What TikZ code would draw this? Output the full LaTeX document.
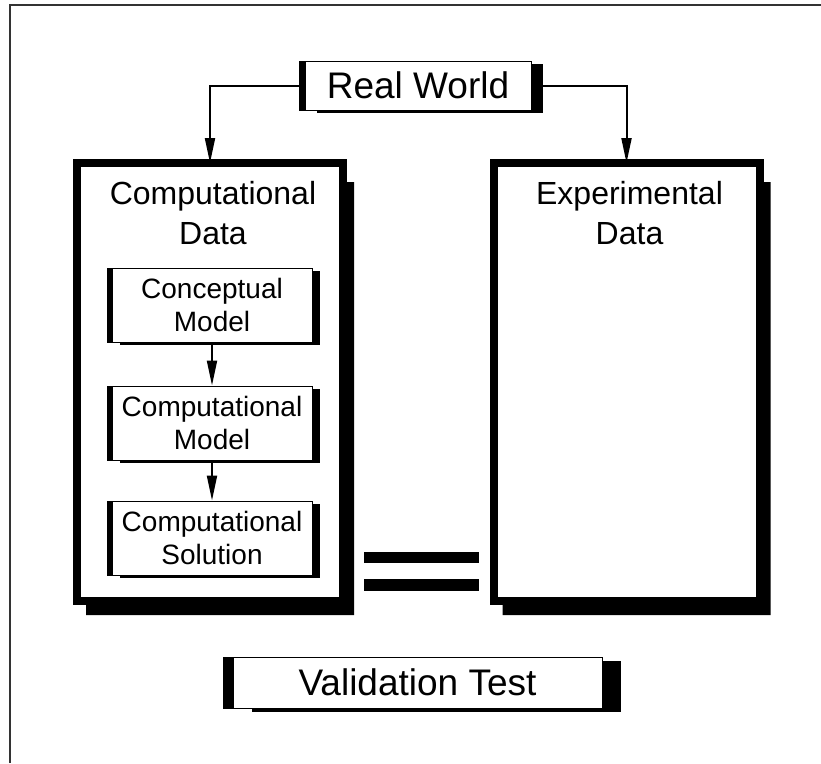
\documentclass[tikz,border=0pt]{standalone}
\usepackage{fontspec}
\setmainfont{Liberation Sans}
\usetikzlibrary{arrows.meta,positioning,shadows}

\tikzset{
  leftbar/.style={append after command={\pgfextra{\fill (\tikzlastnode.north west) rectangle ([xshift=-#1]\tikzlastnode.south west);}}},
  blackshadow/.style 2 args={drop shadow={shadow xshift=#1,shadow yshift=#2,fill=black,opacity=1}}
}

\begin{document}
\begin{tikzpicture}[x=1pt,y=-1pt,>={Triangle[length=25pt,width=10pt]},
                    line width=2pt]
  \tikzstyle{stepbox}=[draw,fill=white,line width=1pt,inner sep=0pt,align=center,
                       minimum width=200pt,minimum height=74pt,
                       font=\fontsize{28}{33}\selectfont,leftbar=5pt,blackshadow={8pt}{-3pt}]
  \tikzstyle{titlebox}=[draw,fill=white,line width=1pt,inner sep=0pt,
                        font=\fontsize{37}{44}\selectfont]
  \tikzstyle{databox}=[draw,fill=white,line width=8pt,outer sep=0pt,
                       minimum width=266pt,minimum height=438pt]
  \tikzstyle{datatext}=[inner sep=0pt,align=center,font=\fontsize{32}{40}\selectfont]

  \useasboundingbox (0,0) rectangle (821,763);
  \draw[line width=1.2pt,black!80] (10,763) -- (10,5) -- (821,5);

  % the two data boxes
  \node[databox] (cd) at (210,382)   {};
  \node[databox] (ed) at (626.5,382) {};
  \fill ([xshift=4pt,yshift=-19pt]cd.north east) rectangle ([xshift=11pt,yshift=-14pt]cd.south east)
        ([xshift=9pt,yshift=-4pt]cd.south west) rectangle ([xshift=11pt,yshift=-14pt]cd.south east);
  \fill ([xshift=4pt,yshift=-19pt]ed.north east) rectangle ([xshift=11pt,yshift=-14pt]ed.south east)
        ([xshift=9pt,yshift=-4pt]ed.south west) rectangle ([xshift=11pt,yshift=-14pt]ed.south east);
  \node[datatext,below=17pt of cd.north,xshift=3pt] (cdtext) {Computational\\Data};
  \node[datatext,below=17pt of ed.north,xshift=3pt] (edtext) {Experimental\\Data};

  \node[stepbox] (cm) at (212,305)    {Conceptual\\Model};
  \node[stepbox] (cmod) [below=43pt of cm]   {Computational\\Model};
  \node[stepbox] (csol) [below=40pt of cmod] {Computational\\Solution};

  \node[titlebox,leftbar=6pt,minimum width=226pt,minimum height=49pt,
        blackshadow={12pt}{-3pt}] (rw) at (418,85.5) {Real World};
  \node[titlebox,leftbar=10pt,minimum width=369pt,minimum height=51pt,
        blackshadow={19pt}{-4pt}] (vt) at (417.5,682.5) {Validation Test};

  % equals sign
  \fill (364,552) rectangle (479,563);
  \fill (364,579) rectangle (479,591);

  \draw[->] (rw.west) -| (cd.north);
  \draw[->] (rw.east) -| (ed.north);
  \draw[->] (cm) -- (cmod);
  \draw[->] (cmod) -- (csol);
\end{tikzpicture}
\end{document}
